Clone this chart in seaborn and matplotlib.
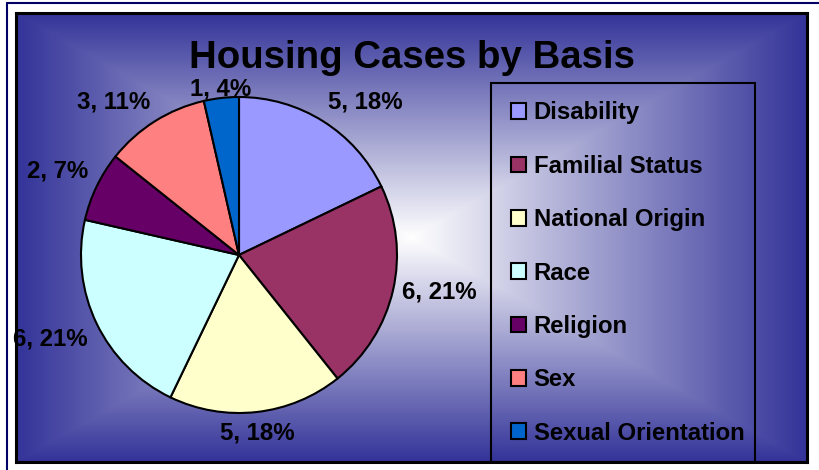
import numpy as np
import matplotlib
matplotlib.use("Agg")
import matplotlib.pyplot as plt
from matplotlib.patches import Patch, Rectangle
from matplotlib.lines import Line2D
import seaborn as sns

# ---- data ----
categories = ["Disability", "Familial Status", "National Origin", "Race",
              "Religion", "Sex", "Sexual Orientation"]
counts = [5, 6, 5, 6, 2, 3, 1]
colors = ["#9999FF", "#993366", "#FFFFCC", "#CCFFFF", "#660066", "#FF8080", "#0066CC"]
title = "Housing Cases by Basis"

sns.set_theme(style="white")
plt.rcParams['font.family'] = ['Liberation Sans', 'DejaVu Sans']
plt.rcParams['text.color'] = 'black'

W, H = 819, 470
fig = plt.figure(figsize=(W / 100, H / 100), dpi=100)
fig.patch.set_facecolor("white")

def fx(px):
    return px / W

def fy(py):
    return 1 - py / H

# outer navy border lines
fig.add_artist(Line2D([fx(7), fx(7)], [fy(3), fy(470)], color="#000066", lw=1.5))
fig.add_artist(Line2D([fx(7), fx(819)], [fy(3), fy(3)], color="#000066", lw=1.5))

# gradient panel
px0, py0, px1, py1 = 16, 13, 807, 462
bg = fig.add_axes([fx(px0), fy(py1), fx(px1 - px0), (py1 - py0) / H])
gx = np.linspace(-1, 1, px1 - px0)
gy = np.linspace(-1, 1, py1 - py0)
GX, GY = np.meshgrid(gx, gy)
t = np.maximum(np.abs(GX), np.abs(GY))
t = np.clip(t, 0, 1)
edge = np.array([51, 51, 153]) / 255.0
white = np.array([1.0, 1.0, 1.0])
img = white[None, None, :] * (1 - t[..., None]) + edge[None, None, :] * t[..., None]
bg.imshow(img, aspect="auto", extent=[0, 1, 0, 1])
bg.set_xticks([])
bg.set_yticks([])
for s in bg.spines.values():
    s.set_visible(True)
    s.set_color("black")
    s.set_linewidth(2.2)

# pie
cx, cy, r = 239, 255, 158
ax = fig.add_axes([fx(cx - r), fy(cy + r), fx(2 * r), 2 * r / H])
ax.patch.set_alpha(0)
total = sum(counts)
labels = [f"{v}, {round(100 * v / total)}%" for v in counts]
wedges, texts = ax.pie(counts, colors=colors, startangle=90, counterclock=False,
                       labels=labels, labeldistance=1.06,
                       wedgeprops=dict(edgecolor="black", linewidth=1.5),
                       textprops=dict(fontsize=17.3, fontweight="bold", color="black"))
# Excel-like label alignment (box corner placed at the anchor point)
for w, txt in zip(wedges, texts):
    ang = np.deg2rad((w.theta1 + w.theta2) / 2)
    c, s = np.cos(ang), np.sin(ang)
    if abs(c) < 0.2:
        txt.set_ha("center")
    else:
        txt.set_ha("left" if c > 0 else "right")
    if s > 0.3:
        txt.set_va("bottom" if abs(c) >= 0.2 else "center")
    elif s < -0.3:
        txt.set_va("top")
    else:
        txt.set_va("center")
ax.set_xlim(-1, 1)
ax.set_ylim(-1, 1)
ax.set_aspect("equal")
ax.axis("off")

# title
fig.text(fx(412), fy(68), title, ha="center", va="baseline",
         fontsize=27.6, fontweight="bold", color="black")

# legend frame
fig.add_artist(Rectangle((fx(491), fy(462)), fx(755 - 491), (462 - 83) / H,
                         fill=False, edgecolor="black", lw=1.5,
                         transform=fig.transFigure))

handles = [Patch(facecolor=c, edgecolor="black", linewidth=1.5) for c in colors]
leg = fig.legend(handles, categories, loc="upper left",
                 bbox_to_anchor=(fx(511), fy(101.5)), frameon=False,
                 borderpad=0, borderaxespad=0, handlelength=0.62, handleheight=0.62,
                 handletextpad=0.33, labelspacing=1.27,
                 prop=dict(size=17.2, weight="bold"))
for txt in leg.get_texts():
    txt.set_color("black")

fig.savefig("out.png", dpi=100)
